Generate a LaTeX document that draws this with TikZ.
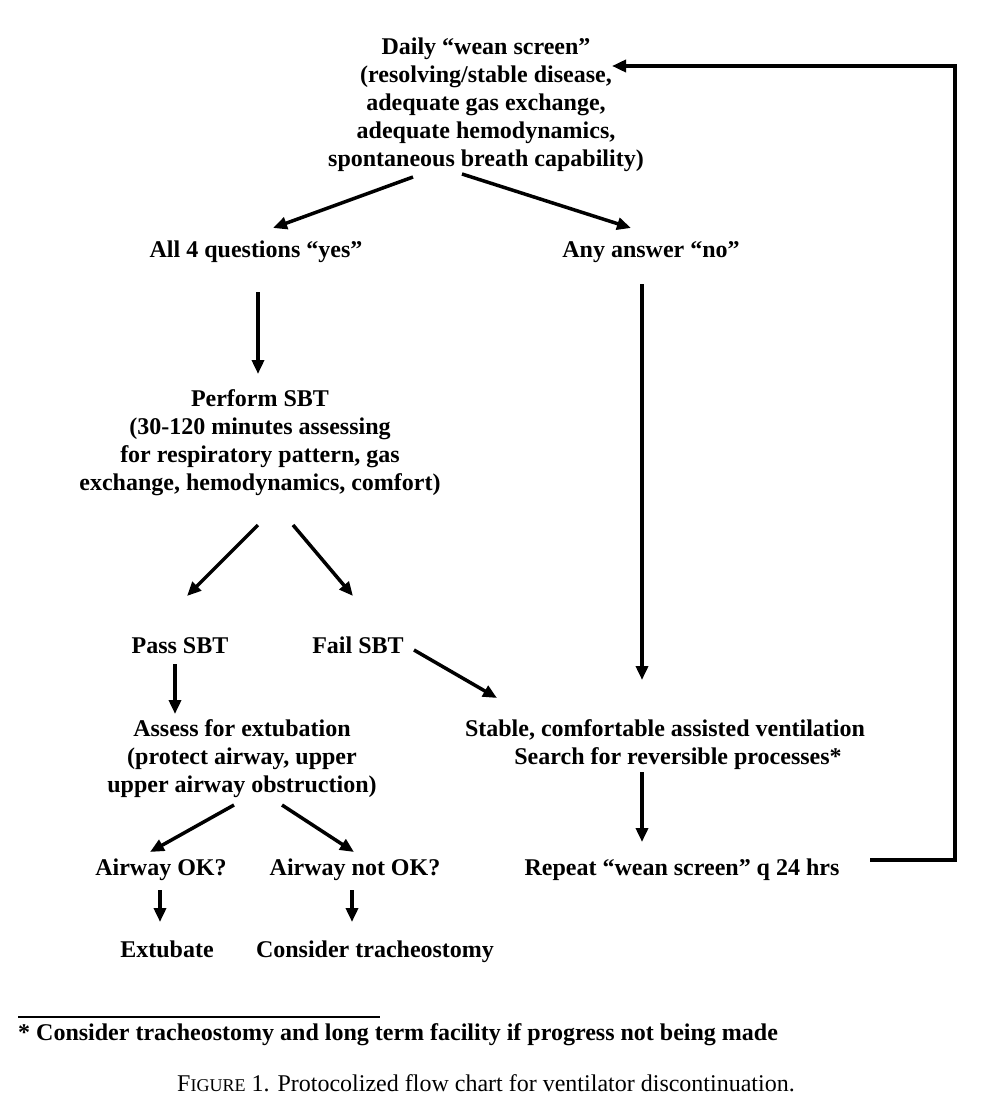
\documentclass[tikz,border=0pt]{standalone}
\usepackage{fontspec}
\setmainfont{Liberation Serif}
\usetikzlibrary{arrows.meta}
\begin{document}
\begin{tikzpicture}[x=1pt,y=-1pt,
  lbl/.style={font=\fontsize{24}{28}\selectfont\bfseries, align=center, inner sep=0pt,
    execute at begin node=\rule{0pt}{25.6pt}, execute at end node=\rule[-8.4pt]{0pt}{8.4pt}},
  arr/.style={line width=3.5pt, -{Triangle[length=14pt,width=12pt]}},
  ln/.style={line width=3.5pt}]
\useasboundingbox (0,0) rectangle (985,1115);
\node[lbl] (top) at (486,106) {Daily “wean screen”\\(resolving/stable disease,\\adequate gas exchange,\\adequate hemodynamics,\\spontaneous breath capability)};
\node[lbl] (yes) at (256,249) {All 4 questions “yes”};
\node[lbl] (no) at (651,249) {Any answer “no”};
\node[lbl] (sbt) at (260,444) {Perform SBT\\(30-120 minutes assessing\\for respiratory pattern, gas\\exchange, hemodynamics, comfort)};
\node[lbl] (pass) at (180,645) {Pass SBT};
\node[lbl] (fail) at (358,645) {Fail SBT};
\node[lbl] (assess) at (242,760) {Assess for extubation\\(protect airway, upper\\upper airway obstruction)};
\node[lbl] (stable) at (665,746) {Stable, comfortable assisted ventilation\\\hspace*{26pt}Search for reversible processes*};
\node[lbl] (repeat) at (682,867) {Repeat “wean screen” q 24 hrs};
\node[lbl] (ok) at (161,867) {Airway OK?};
\node[lbl] (notok) at (355,867) {Airway not OK?};
\node[lbl] (ext) at (167,949) {Extubate};
\node[lbl] (trach) at (375,949) {Consider tracheostomy};
\node[lbl, anchor=west] (foot) at (18,1032) {* Consider tracheostomy and long term facility if progress not being made};
\node[font=\fontsize{24}{28}\selectfont, inner sep=0pt, execute at begin node=\strut] (cap) at (486,1086) {F{\fontsize{18}{20}\selectfont IGURE} 1. Protocolized flow chart for ventilator discontinuation.};
\coordinate (fl1) at (18,1017);
\coordinate (fl2) at (380,1017);
\draw[line width=1.5pt] (fl1) -- (fl2);
% arrows
\draw[arr] ([shift={(-73,71)}]top.center) -- ([shift={(17,-21)}]yes.center);
\draw[arr] ([shift={(-24,68)}]top.center) -- ([shift={(-20,-21)}]no.center);
\draw[arr] ([shift={(2,43)}]yes.center) -- ([shift={(-2,-70)}]sbt.center);
\draw[arr] ([shift={(-9,35)}]no.center) -- ([shift={(-23,-66)}]stable.center);
\draw[arr] ([shift={(-2,81)}]sbt.center) -- ([shift={(7,-49)}]pass.center);
\draw[arr] ([shift={(33,81)}]sbt.center) -- ([shift={(-5,-49)}]fail.center);
\draw[arr] ([shift={(-5,19)}]pass.center) -- ([shift={(-67,-46)}]assess.center);
\draw[arr] ([shift={(56,5)}]fail.center) -- ([shift={(-168,-48)}]stable.center);
\draw[arr] ([shift={(-23,26)}]stable.center) -- ([shift={(-40,-25)}]repeat.center);
\draw[arr] ([shift={(-8,45)}]assess.center) -- ([shift={(-11,-15)}]ok.center);
\draw[arr] ([shift={(40,45)}]assess.center) -- ([shift={(-1,-15)}]notok.center);
\draw[arr] ([shift={(-1,23)}]ok.center) -- ([shift={(-7,-27)}]ext.center);
\draw[arr] ([shift={(-3,23)}]notok.center) -- ([shift={(-23,-27)}]trach.center);
\coordinate (c1) at (955,860);
\coordinate (c2) at (955,66);
\draw[arr] ([shift={(188,-7)}]repeat.center) -- (c1) -- (c2) -- ([shift={(126,-40)}]top.center);
\end{tikzpicture}
\end{document}
